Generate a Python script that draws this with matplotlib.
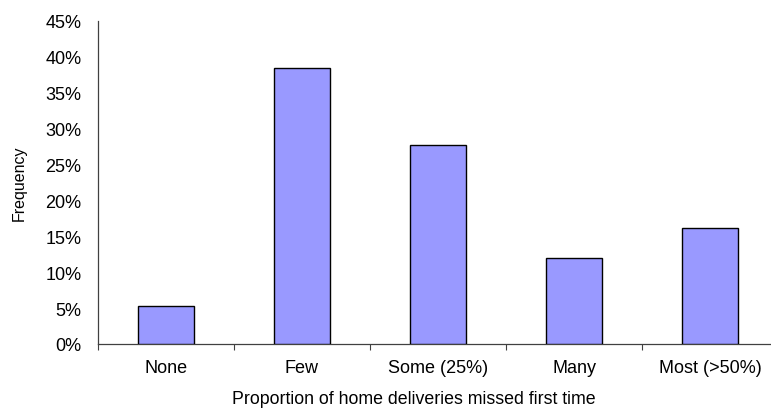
import matplotlib
matplotlib.use('Agg')
import matplotlib.pyplot as plt
import matplotlib.ticker as ticker
import numpy as np

categories = ['None', 'Few', 'Some (25%)', 'Many', 'Most (>50%)']
frequency  = [5.3, 38.5, 27.7, 12.0, 16.1]   # percent
yticks     = [0, 5, 10, 15, 20, 25, 30, 35, 40, 45]

plt.rcParams['font.family'] = ['Liberation Sans', 'DejaVu Sans']

fig = plt.figure(figsize=(7.71, 4.10), dpi=100)
W, H = 771, 410
# axes runs a little past the right edge of the figure
ax = fig.add_axes([98 / W, (H - 345) / H, 680 / W, 323 / H])

x = np.arange(len(categories))
ax.bar(x, frequency, width=0.41, color='#9999FF', edgecolor='black',
       linewidth=1.0, zorder=3)

ax.set_xlim(-0.5, len(categories) - 0.5)
ax.set_ylim(0, 45)
ax.set_yticks(yticks)
ax.yaxis.set_major_formatter(ticker.FuncFormatter(lambda v, p: f'{v:.0f}%'))
ax.tick_params(axis='y', length=0, pad=12, labelsize=13)

ax.set_xticks(x)
ax.set_xticklabels(categories)
ax.set_xticks(np.arange(len(categories) + 1) - 0.5, minor=True)
ax.tick_params(axis='x', which='major', length=0, pad=11, labelsize=13)
ax.tick_params(axis='x', which='minor', length=4, width=0.8,
               direction='out', color='#404040')

for side in ('top', 'right'):
    ax.spines[side].set_visible(False)
for side in ('left', 'bottom'):
    ax.spines[side].set_color('#404040')
    ax.spines[side].set_linewidth(0.9)

ax.set_ylabel('Frequency', fontsize=11.5)
ax.yaxis.set_label_coords((27 - 98) / 680, 0.5)
fig.text(414 / W, 1 - 400 / H, 'Proportion of home deliveries missed first time',
         ha='center', va='center', fontsize=12.75)

fig.savefig('out.png', dpi=100)
